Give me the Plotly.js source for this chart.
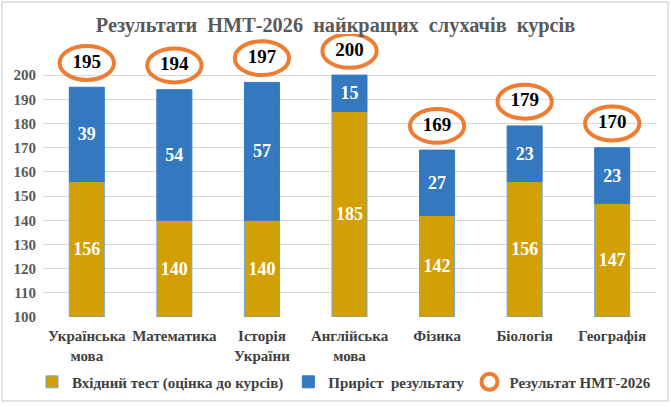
<!DOCTYPE html>
<html>
<head>
<meta charset="utf-8">
<script src="https://cdn.plot.ly/plotly-3.0.1.min.js"></script>
<style>
  html, body { margin: 0; padding: 0; background: #fff; }
  #chart { width: 671px; height: 407px; }
</style>
</head>
<body>
<div id="chart"></div>
<script>
// subjects and scores
var subjects = ['Українська<br>мова', 'Математика', 'Історія<br>України', 'Англійська<br>мова', 'Фізика', 'Біологія', 'Географія'];
var entryScores = [156, 140, 140, 185, 142, 156, 147];
var gainScores  = [39, 54, 57, 15, 27, 23, 23];
var finalScores = [195, 194, 197, 200, 169, 179, 170];
var yTicks = [100, 110, 120, 130, 140, 150, 160, 170, 180, 190, 200];

var serif = 'Liberation Serif, Times New Roman, serif';
var orange = '#ed7d31';
var yFloor = 100;

// oval sits ~10 points above the bar top
var ovalLift = 10;
var ovalY = finalScores.map(function(v){ return v + ovalLift; });

// gold bars start at the axis floor so the label lands in the visible part
var entryTrace = {
	name: 'Вхідний тест (оцінка до курсів)',
	type: 'bar',
	x: subjects,
	base: entryScores.map(function(){ return yFloor; }),
	y: entryScores.map(function(v){ return v - yFloor; }),
	text: entryScores.map(String),
	textposition: 'inside',
	insidetextanchor: 'middle',
	textangle: 0,
	constraintext: 'none',
	textfont: {family: serif, size: 18, color: '#ffffff', weight: 'bold'},
	marker: {color: '#d2a004', line: {color: '#6fa8dc', width: 1}},
	hoverinfo: 'skip'
};

var gainTrace = {
	name: 'Приріст  результату',
	type: 'bar',
	x: subjects,
	base: entryScores,
	y: gainScores,
	text: gainScores.map(String),
	textposition: 'inside',
	insidetextanchor: 'middle',
	textangle: 0,
	constraintext: 'none',
	textfont: {family: serif, size: 18, color: '#ffffff', weight: 'bold'},
	marker: {color: '#3479bf', line: {color: '#3479bf', width: 1}},
	hoverinfo: 'skip'
};

var totalLabels = {
	type: 'scatter',
	mode: 'text',
	x: subjects,
	y: ovalY,
	text: finalScores.map(String),
	textposition: 'middle center',
	textfont: {family: serif, size: 19, color: '#000000', weight: 'bold'},
	cliponaxis: false,
	showlegend: false,
	hoverinfo: 'skip'
};

// only here to get the orange oval into the legend
var ovalLegend = {
	name: 'Результат НМТ-2026',
	type: 'scatter',
	mode: 'markers',
	x: [null],
	y: [null],
	marker: {symbol: 'circle-open', size: 20, color: orange, line: {color: orange, width: 4}},
	hoverinfo: 'skip'
};

var shapes = finalScores.map(function(v, i){
	return {
		type: 'circle', xref: 'x', yref: 'y', layer: 'above',
		x0: i - 0.31, x1: i + 0.31,
		y0: v + ovalLift - 7, y1: v + ovalLift + 7,
		line: {color: orange, width: 4}
	};
});
// light frame round the whole chart
shapes.push({
	type: 'rect', xref: 'paper', yref: 'paper', layer: 'below',
	x0: -0.067, x1: 1.0196, y0: -0.297, y1: 1.113,
	line: {color: '#d9d9d9', width: 1.5}
});

var layout = {
	width: 671,
	height: 407,
	margin: {l: 43, r: 15, t: 34, b: 90, autoexpand: false},
	paper_bgcolor: '#ffffff',
	plot_bgcolor: '#ffffff',
	barmode: 'overlay',
	bargap: 0.6,
	showlegend: true,
	font: {family: serif, size: 15, color: '#404040', weight: 'bold'},
	title: {
		text: 'Результати  НМТ-2026  найкращих  слухачів  курсів',
		font: {family: serif, size: 20.3, color: '#595959', weight: 'bold'},
		x: 0.5, xanchor: 'center',
		y: 0.938, yanchor: 'middle'
	},
	xaxis: {
		type: 'category',
		showgrid: false,
		showline: false,
		ticks: '',
		ticklabelstandoff: 8,
		tickfont: {family: serif, size: 15, color: '#404040', weight: 'bold'},
		fixedrange: true
	},
	yaxis: {
		range: [yFloor, 217],
		tickvals: yTicks,
		showgrid: true,
		gridcolor: '#d9d9d9',
		gridwidth: 1,
		zeroline: false,
		showline: false,
		ticks: '',
		ticklabelstandoff: 6,
		tickfont: {family: serif, size: 15, color: '#595959', weight: 'bold'},
		fixedrange: true
	},
	legend: {
		orientation: 'h',
		x: -0.018, xanchor: 'left',
		y: -0.23, yanchor: 'middle',
		bgcolor: 'rgba(0,0,0,0)',
		font: {family: serif, size: 15, color: '#404040', weight: 'bold'},
		traceorder: 'normal',
		itemwidth: 30
	},
	shapes: shapes
};

Plotly.newPlot('chart', [entryTrace, gainTrace, totalLabels, ovalLegend], layout, {staticPlot: true, displayModeBar: false});
</script>
</body>
</html>
